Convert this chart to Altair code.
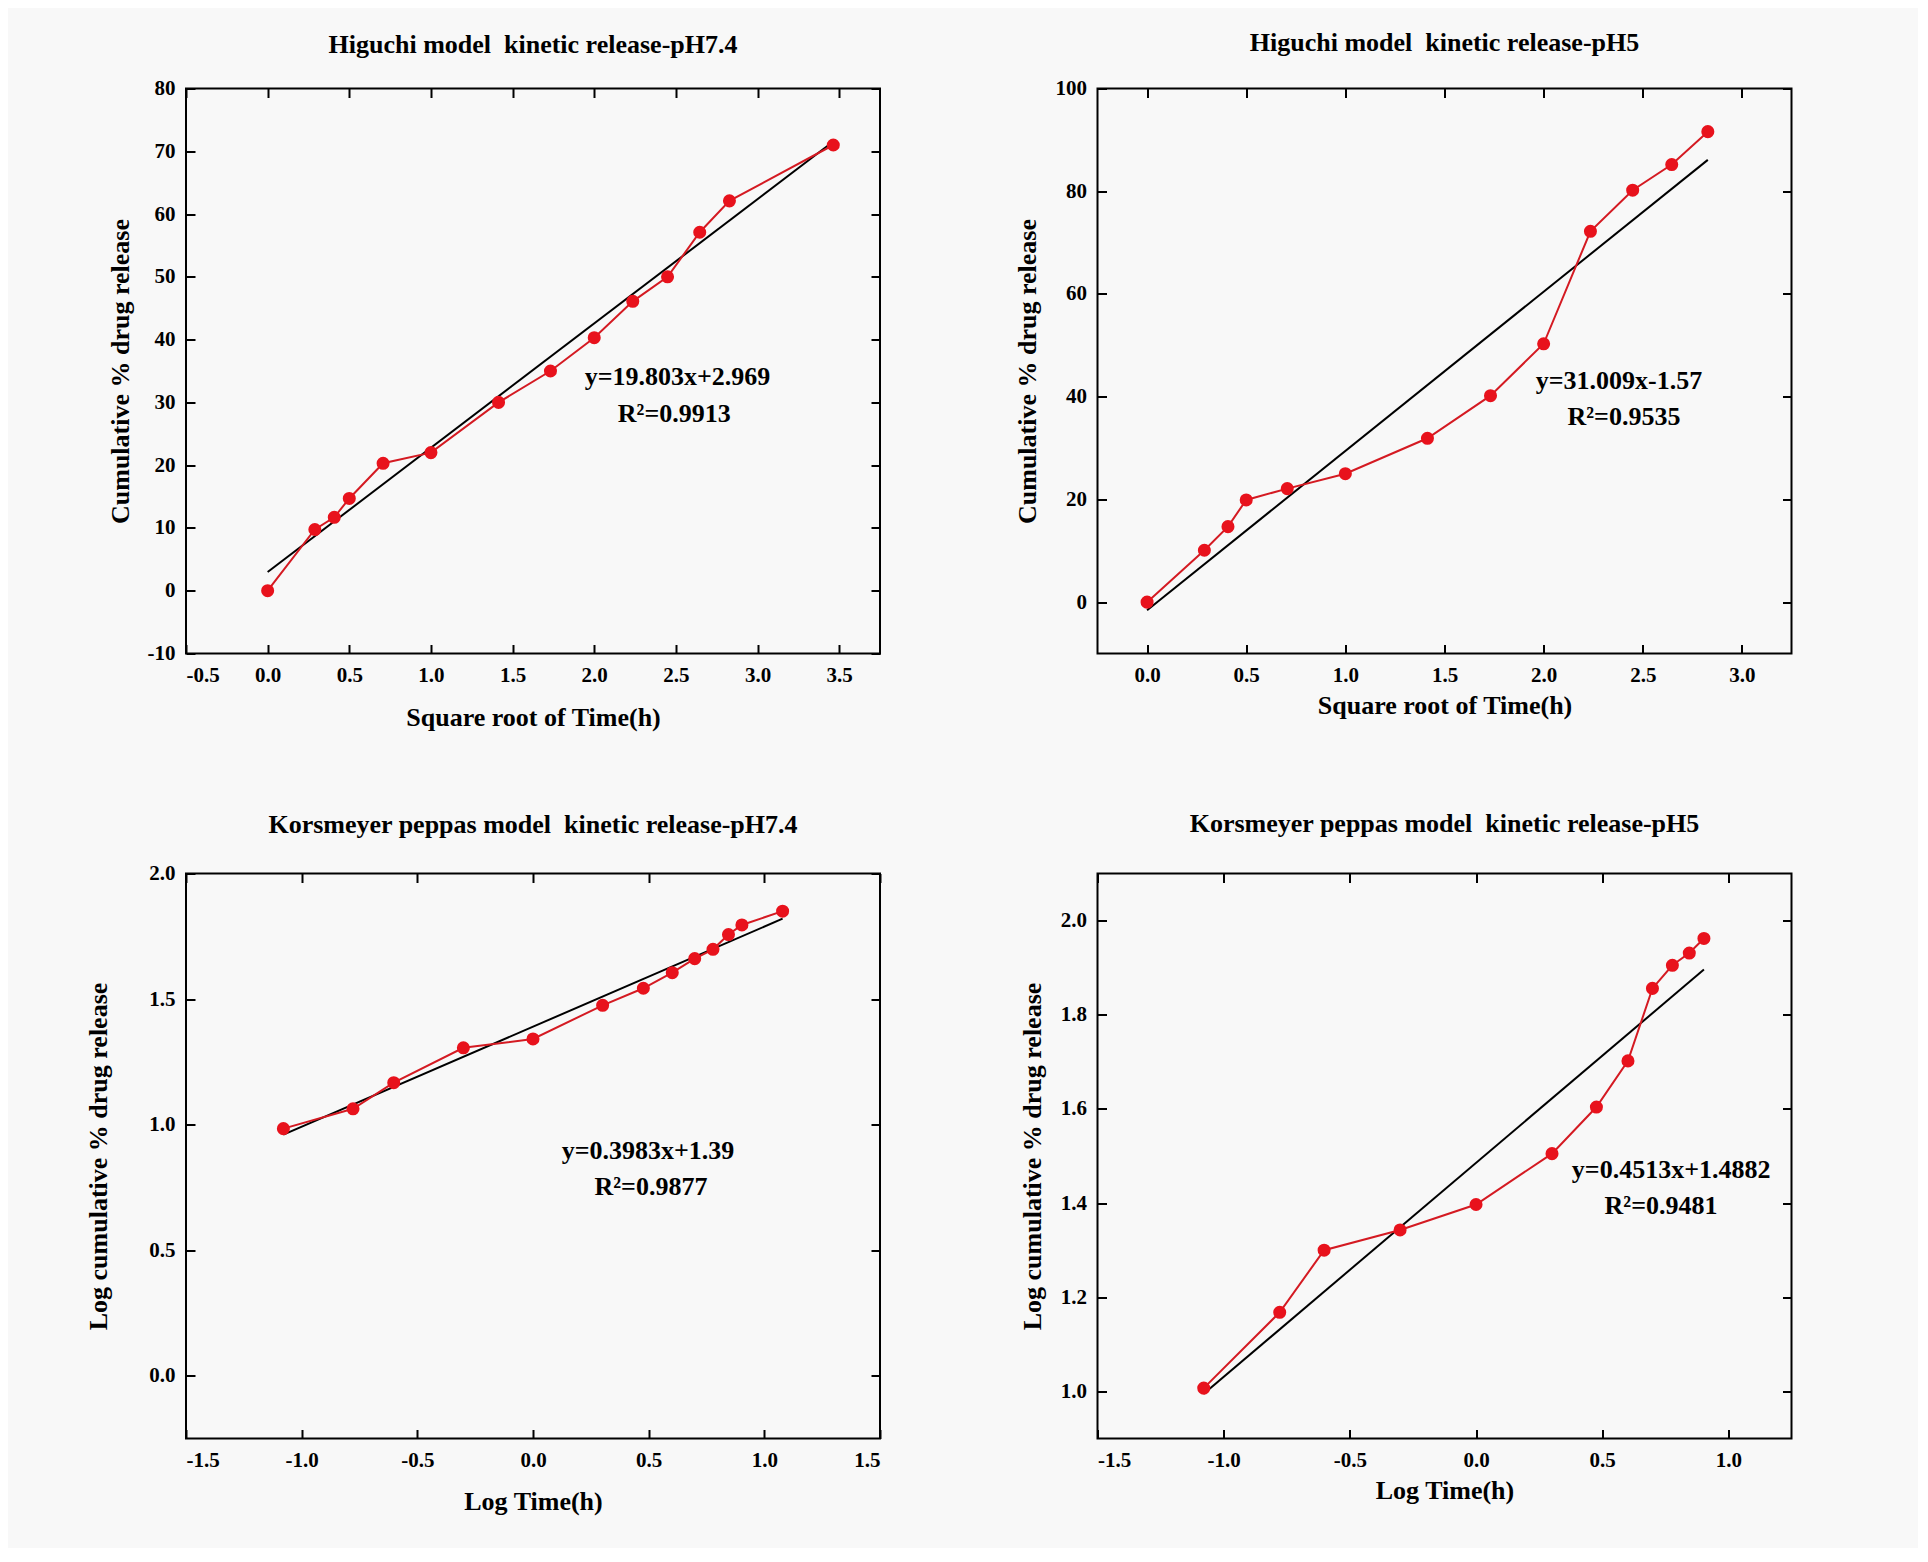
import altair as alt
import pandas as pd

# ---------------- data ----------------
sqrt_t_74 = [0.0, 0.289, 0.408, 0.5, 0.707, 1.0, 1.414, 1.732, 2.0, 2.236, 2.449, 2.646, 2.828, 3.464]
rel_74 = [0.0, 9.75, 11.7, 14.7, 20.3, 22.0, 30.0, 35.0, 40.3, 46.1, 50.0, 57.1, 62.1, 71.0]

sqrt_t_5 = [0.0, 0.289, 0.408, 0.5, 0.707, 1.0, 1.414, 1.732, 2.0, 2.236, 2.449, 2.646, 2.828]
rel_5 = [0.0, 10.1, 14.7, 19.9, 22.1, 25.0, 31.9, 40.2, 50.3, 72.2, 80.2, 85.2, 91.6]

log_t_74 = [-1.079, -0.778, -0.602, -0.301, 0.0, 0.301, 0.477, 0.602, 0.699, 0.778, 0.845, 0.903, 1.079]
logrel_74 = [0.984, 1.063, 1.167, 1.306, 1.341, 1.475, 1.543, 1.605, 1.661, 1.698, 1.757, 1.795, 1.850]

log_t_5 = [-1.079, -0.778, -0.602, -0.301, 0.0, 0.301, 0.477, 0.602, 0.699, 0.778, 0.845, 0.903]
logrel_5 = [1.007, 1.168, 1.300, 1.343, 1.397, 1.505, 1.604, 1.702, 1.856, 1.905, 1.931, 1.962]

# fitted lines (end points as drawn)
fit1_x, fit1_y = [0.0, 3.464], [2.97, 71.57]
fit2_x, fit2_y = [0.0, 2.828], [-1.57, 86.1]
fit3_x, fit3_y = [-1.079, 1.079], [0.960, 1.820]
fit4_x, fit4_y = [-1.079, 0.903], [0.995, 1.896]

# annotations
ann1 = ["y=19.803x+2.969", "R\u00b2=0.9913"]
ann2 = ["y=31.009x-1.57", "R\u00b2=0.9535"]
ann3 = ["y=0.3983x+1.39", "R\u00b2=0.9877"]
ann4 = ["y=0.4513x+1.4882", "R\u00b2=0.9481"]
ann1_x, ann1_y = [2.51, 2.49], [34.0, 28.2]
ann2_x, ann2_y = [2.38, 2.405], [43.1, 36.0]
ann3_x, ann3_y = [0.497, 0.51], [0.895, 0.752]
ann4_x, ann4_y = [0.773, 0.733], [1.471, 1.394]

titles = [
    "Higuchi model\u00a0 kinetic release-pH7.4",
    "Higuchi model\u00a0 kinetic release-pH5",
    "Korsmeyer peppas model\u00a0 kinetic release-pH7.4",
    "Korsmeyer peppas model\u00a0 kinetic release-pH5",
]

FONT = "Liberation Serif"
RED = "#e8121c"
LINE_RED = "#d41a22"


def lab_expr(fmt):
    return ("(datum.value < 0 ? '-' : '') + format(abs(datum.value), '%s')" % fmt)


def panel(xs, ys, fx, fy, ax, ay, atext, xdom, ydom, xticks, yticks,
          xtitle, ytitle, title, xfmt, yfmt, ytp, xtp, toff):
    pts = pd.DataFrame({"x": xs, "y": ys})
    fit = pd.DataFrame({"x": fx, "y": fy})
    ann = pd.DataFrame({"x": ax, "y": ay, "t": atext})
    xs_ = alt.Scale(domain=xdom, nice=False, zero=False)
    ys_ = alt.Scale(domain=ydom, nice=False, zero=False)

    common = dict(tickSize=9, tickWidth=2, tickColor="black", offset=-9,
                  domain=False, grid=False,
                  labelFont=FONT, labelFontSize=21, labelFontWeight="bold",
                  labelColor="black",
                  titleFont=FONT, titleFontSize=26, titleFontWeight="bold",
                  titleColor="black")

    bottom = alt.Axis(orient="bottom", values=xticks, labelExpr=lab_expr(xfmt),
                      labelPadding=11, title=xtitle, titlePadding=xtp, **common)
    left = alt.Axis(orient="left", values=yticks, labelExpr=lab_expr(yfmt),
                    labelPadding=11, title=ytitle, titlePadding=ytp, **common)
    top = alt.Axis(orient="top", values=xticks, labels=False, title=None, **common)
    right = alt.Axis(orient="right", values=yticks, labels=False, title=None, **common)

    fit_layer = alt.Chart(fit).mark_line(color="black", strokeWidth=2).encode(
        x=alt.X("x:Q", scale=xs_, axis=top),
        y=alt.Y("y:Q", scale=ys_, axis=right),
    )
    line_layer = alt.Chart(pts).mark_line(color=LINE_RED, strokeWidth=2).encode(
        x=alt.X("x:Q", scale=xs_, axis=bottom),
        y=alt.Y("y:Q", scale=ys_, axis=left),
    )
    pt_layer = alt.Chart(pts).mark_circle(color=RED, size=170, opacity=1).encode(
        x=alt.X("x:Q", scale=xs_, axis=None),
        y=alt.Y("y:Q", scale=ys_, axis=None),
    )
    txt_layer = alt.Chart(ann).mark_text(font=FONT, fontSize=26, fontWeight="bold",
                                         color="black", align="center",
                                         baseline="middle").encode(
        x=alt.X("x:Q", scale=xs_, axis=None),
        y=alt.Y("y:Q", scale=ys_, axis=None),
        text="t:N",
    )
    return alt.layer(fit_layer, line_layer, pt_layer, txt_layer).properties(
        width=694, height=565,
        title=alt.TitleParams(title, font=FONT, fontSize=26, fontWeight="bold",
                              color="black", anchor="middle", offset=toff),
    )


p1 = panel(sqrt_t_74, rel_74, fit1_x, fit1_y, ann1_x, ann1_y, ann1,
           [-0.5, 3.75], [-10, 80],
           [-0.5, 0, 0.5, 1, 1.5, 2, 2.5, 3, 3.5], list(range(-10, 81, 10)),
           "Square root of Time(h)", "Cumulative % drug release", titles[0],
           ".1f", "d", 14, 19, 19.5)
p2 = panel(sqrt_t_5, rel_5, fit2_x, fit2_y, ann2_x, ann2_y, ann2,
           [-0.25, 3.25], [-10, 100],
           [0, 0.5, 1, 1.5, 2, 2.5, 3], [0, 20, 40, 60, 80, 100],
           "Square root of Time(h)", "Cumulative % drug release", titles[1],
           ".1f", "d", 15, 7, 21.5)
p3 = panel(log_t_74, logrel_74, fit3_x, fit3_y, ann3_x, ann3_y, ann3,
           [-1.5, 1.5], [-0.25, 2.0],
           [-1.5, -1, -0.5, 0, 0.5, 1, 1.5], [0, 0.5, 1, 1.5, 2],
           "Log Time(h)", "Log cumulative % drug release", titles[2],
           ".1f", ".1f", 37, 17.5, 25)
p4 = panel(log_t_5, logrel_5, fit4_x, fit4_y, ann4_x, ann4_y, ann4,
           [-1.5, 1.25], [0.9, 2.1],
           [-1.5, -1, -0.5, 0, 0.5, 1], [1.0, 1.2, 1.4, 1.6, 1.8, 2.0],
           "Log Time(h)", "Log cumulative % drug release", titles[3],
           ".1f", ".1f", 15, 6.5, 35.5)

chart = alt.concat(p1, p2, p3, p4, columns=2,
                   spacing={"row": 78, "column": 130.5}).properties(
    background="#f8f8f8",
    padding={"left": 76, "top": 20.5, "right": 124, "bottom": 32},
).configure_view(stroke="black", strokeWidth=2)

chart.save("out.html", embed_options={"renderer": "svg", "actions": False})
